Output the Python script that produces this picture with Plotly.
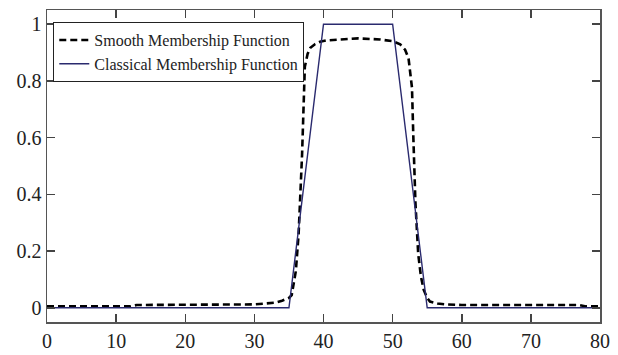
import plotly.graph_objects as go

# Classical (trapezoidal) membership function
classical_x = [0, 35, 40, 50, 55, 80]
classical_y = [0, 0, 1, 1, 0, 0]

# Smooth membership function
smooth_x = [0, 12, 13, 30, 33, 34, 35, 35.4, 36.0, 36.4, 36.9, 37.1, 37.3, 37.7, 38.1, 38.8, 39.5, 40.5,
            41.9, 45, 48.2, 50.0, 51.1, 51.8, 52.3, 52.8, 53.0, 53.3, 53.7, 54.1, 54.5, 55.0, 55.4, 56.5,
            57.8, 60, 77, 78, 80]
smooth_y = [0.005, 0.005, 0.01, 0.012, 0.018, 0.025, 0.035, 0.045, 0.13, 0.26, 0.54, 0.72, 0.85, 0.895, 0.917,
            0.93, 0.938, 0.943, 0.946, 0.95, 0.946, 0.94, 0.929, 0.91, 0.88, 0.776, 0.60, 0.37, 0.19, 0.11,
            0.063, 0.035, 0.022, 0.015, 0.012, 0.01, 0.01, 0.005, 0.005]

x_ticks = [0, 10, 20, 30, 40, 50, 60, 70, 80]
y_ticks = [0, 0.2, 0.4, 0.6, 0.8, 1]
y_tick_labels = ["0", "0.2", "0.4", "0.6", "0.8", "1"]

fig = go.Figure()
fig.add_trace(go.Scatter(x=smooth_x, y=smooth_y, mode="lines", name="Smooth Membership Function",
                         line=dict(color="black", width=2.6, dash="7px,4px")))
fig.add_trace(go.Scatter(x=classical_x, y=classical_y, mode="lines", name="Classical Membership Function",
                         line=dict(color="#2a2a6e", width=1.4)))

axis_common = dict(showline=True, linecolor="#555555", linewidth=1.5, mirror="ticks",
                   ticks="inside", ticklen=8, tickwidth=1.5, tickcolor="#444444",
                   showgrid=False, zeroline=False, automargin=False,
                   tickfont=dict(family="Liberation Serif, Times New Roman, serif", size=20, color="#222222"))

fig.update_xaxes(range=[0, 80], tickvals=x_ticks, **axis_common)
fig.update_yaxes(range=[-0.05, 1.05], tickvals=y_ticks, ticktext=y_tick_labels, **axis_common)

fig.update_layout(
    width=618, height=355,
    margin=dict(l=47, r=18, t=10, b=33, autoexpand=False),
    paper_bgcolor="white", plot_bgcolor="white",
    showlegend=True,
    legend=dict(x=0.011, y=0.962, xanchor="left", yanchor="top",
                bordercolor="#222222", borderwidth=1.2, bgcolor="white",
                font=dict(family="Liberation Serif, Times New Roman, serif", size=16, color="#222222"),
                tracegroupgap=0),
)

fig.write_html("out.html", config={"displayModeBar": False, "staticPlot": True},
               post_script="document.body.style.margin='0px';document.body.style.overflow='hidden';")
